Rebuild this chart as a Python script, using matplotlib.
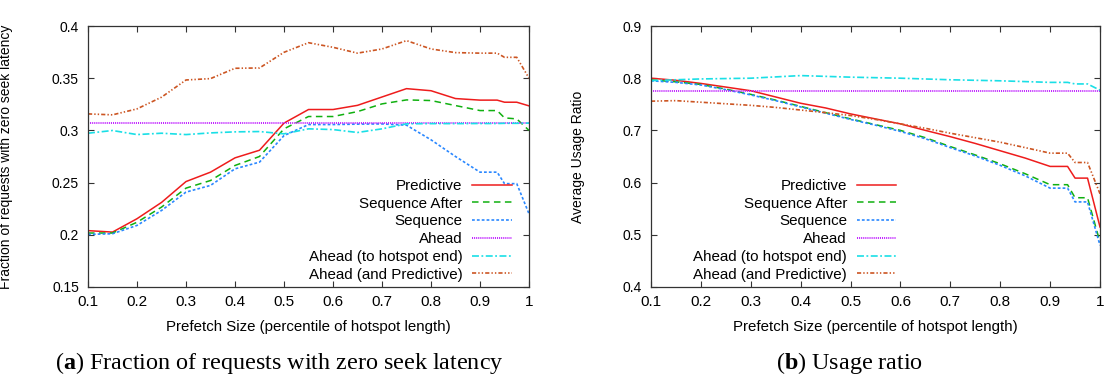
import matplotlib
matplotlib.use("Agg")
import matplotlib.pyplot as plt

plt.rcParams['font.family'] = ['Liberation Sans', 'DejaVu Sans']
plt.rcParams['mathtext.fontset'] = 'custom'
plt.rcParams['mathtext.rm'] = 'Liberation Serif'
plt.rcParams['mathtext.bf'] = 'Liberation Serif:bold'
plt.rcParams['lines.scale_dashes'] = False

# ---------------- data ----------------
x = [0.1, 0.15, 0.2, 0.25, 0.3, 0.35, 0.4, 0.45, 0.5, 0.55, 0.6, 0.65, 0.7,
     0.75, 0.8, 0.85, 0.9, 0.935, 0.95, 0.975, 1.0]

series_names = ["Predictive", "Sequence After", "Sequence", "Ahead",
                "Ahead (to hotspot end)", "Ahead (and Predictive)"]

# (a) fraction of requests with zero seek latency
pred_a = [0.204, 0.2026, 0.2154, 0.231, 0.251, 0.260, 0.2737, 0.281, 0.307, 0.320, 0.320,
          0.324, 0.332, 0.340, 0.338, 0.3305, 0.329, 0.329, 0.327, 0.327, 0.3235]
seqafter_a = [0.2017, 0.2017, 0.212, 0.2265, 0.2447, 0.252, 0.2664, 0.275, 0.3015, 0.3133, 0.3133,
              0.318, 0.3254, 0.3292, 0.3286, 0.3238, 0.319, 0.319, 0.312, 0.311, 0.300]
seq_a = [0.2004, 0.201, 0.209, 0.2233, 0.2409, 0.2473, 0.2632, 0.2696, 0.295, 0.3056, 0.3056,
         0.306, 0.3062, 0.305, 0.291, 0.275, 0.260, 0.260, 0.249, 0.249, 0.2201]
ahead_a = [0.307] * 21
aheadend_a = [0.2973, 0.2999, 0.296, 0.2973, 0.296, 0.2976, 0.2986, 0.2989, 0.2967, 0.3015, 0.3008,
              0.298, 0.3015, 0.3063, 0.3065, 0.3065, 0.3066, 0.3066, 0.3068, 0.3068, 0.307]
aheadpred_a = [0.3158, 0.3149, 0.3206, 0.3318, 0.3483, 0.3496, 0.3595, 0.3598, 0.3748, 0.384, 0.3796,
               0.374, 0.378, 0.386, 0.378, 0.3745, 0.374, 0.374, 0.370, 0.370, 0.350]

# (b) usage ratio
pred_b = [0.800, 0.796, 0.790, 0.783, 0.776, 0.764, 0.752, 0.743, 0.7316, 0.722, 0.7125,
          0.700, 0.688, 0.675, 0.661, 0.647, 0.631, 0.631, 0.6086, 0.6086, 0.515]
seqafter_b = [0.7967, 0.793, 0.788, 0.779, 0.769, 0.758, 0.746, 0.734, 0.722, 0.711, 0.700,
              0.686, 0.669, 0.653, 0.636, 0.617, 0.596, 0.596, 0.571, 0.571, 0.486]
seq_b = [0.795, 0.792, 0.787, 0.778, 0.768, 0.757, 0.745, 0.733, 0.721, 0.710, 0.698,
         0.684, 0.667, 0.651, 0.633, 0.613, 0.5894, 0.5894, 0.563, 0.563, 0.480]
ahead_b = [0.775] * 21
aheadend_b = [0.7954, 0.797, 0.7986, 0.7993, 0.800, 0.8025, 0.805, 0.8035, 0.802, 0.801, 0.800,
              0.7985, 0.797, 0.796, 0.795, 0.7935, 0.792, 0.792, 0.789, 0.789, 0.777]
aheadpred_b = [0.756, 0.757, 0.754, 0.751, 0.748, 0.744, 0.739, 0.734, 0.7285, 0.721, 0.7125,
               0.704, 0.6946, 0.686, 0.6774, 0.667, 0.6564, 0.6564, 0.6385, 0.6385, 0.5786]

xticks = [0.1, 0.2, 0.3, 0.4, 0.5, 0.6, 0.7, 0.8, 0.9, 1.0]
xticklabels = ["0.1", "0.2", "0.3", "0.4", "0.5", "0.6", "0.7", "0.8", "0.9", "1"]
yticks_a = [0.15, 0.2, 0.25, 0.3, 0.35, 0.4]
yticklabels_a = ["0.15", "0.2", "0.25", "0.3", "0.35", "0.4"]
yticks_b = [0.4, 0.5, 0.6, 0.7, 0.8, 0.9]
yticklabels_b = ["0.4", "0.5", "0.6", "0.7", "0.8", "0.9"]

xlabel = "Prefetch Size (percentile of hotspot length)"
ylabel_a = "Fraction of requests with zero seek latency"
ylabel_b = "Average Usage Ratio"
caption_a = r"($\mathbf{a}$) Fraction of requests with zero seek latency"
caption_b = r"($\mathbf{b}$) Usage ratio"

# ---------------- styles ----------------
styles = [
    dict(color='#ee1c1c', linestyle='-', linewidth=1.1),
    dict(color='#10b010', dashes=(4.7, 3.2), linewidth=1.1),
    dict(color='#2a88ff', dashes=(2.0, 1.5), linewidth=1.2),
    dict(color='#c020ff', dashes=(0.75, 0.75), linewidth=1.4),
    dict(color='#1adfe6', dashes=(5.0, 1.8, 1.3, 1.8), linewidth=1.2),
    dict(color='#cc5522', dashes=(3.0, 1.5, 1.0, 1.5, 1.0, 1.5), linewidth=1.2),
]

fig = plt.figure(figsize=(11.04, 3.78), dpi=100)
ax1 = fig.add_axes([88 / 1104, 91 / 378, 441 / 1104, 261 / 378])
ax2 = fig.add_axes([651 / 1104, 91 / 378, 449 / 1104, 261 / 378])


def draw(ax, data, yticks, yticklabels, ylim, ylabel, ylabel_x, leg_x):
    for name, ys, st in zip(series_names, data, styles):
        ax.plot(x, ys, label=name, **st)
    ax.set_xlim(0.1, 1.0)
    ax.set_ylim(*ylim)
    ax.set_xticks(xticks)
    ax.set_xticklabels(xticklabels, fontsize=11)
    ax.set_yticks(yticks)
    ax.set_yticklabels(yticklabels, fontsize=10)
    ax.tick_params(direction='in', length=4.5, width=0.8, top=True, right=True,
                   color='#333333')
    ax.tick_params(axis='y', pad=6.5)
    ax.tick_params(axis='x', pad=6)
    for s in ax.spines.values():
        s.set_color('#333333')
        s.set_linewidth(0.9)
    ax.set_xlabel(xlabel, fontsize=10.8, labelpad=8)
    ax.set_ylabel(ylabel, fontsize=10)
    ax.yaxis.set_label_coords(ylabel_x, 0.5)
    leg = ax.legend(loc='lower right', bbox_to_anchor=(leg_x, 0.02),
                    frameon=False, markerfirst=False, fontsize=10.9,
                    handlelength=2.6, handletextpad=0.65, labelspacing=0.25,
                    borderpad=0, borderaxespad=0)
    return leg


draw(ax1, [pred_a, seqafter_a, seq_a, ahead_a, aheadend_a, aheadpred_a],
     yticks_a, yticklabels_a, (0.15, 0.4), ylabel_a, -0.170, 0.961)
draw(ax2, [pred_b, seqafter_b, seq_b, ahead_b, aheadend_b, aheadpred_b],
     yticks_b, yticklabels_b, (0.4, 0.9), ylabel_b, -0.147, 0.546)

fig.text(279.5 / 1104, 1 - 369 / 378, caption_a, ha='center', va='baseline',
         fontsize=17.4, family='Liberation Serif')
fig.text(850 / 1104, 1 - 369 / 378, caption_b, ha='center', va='baseline',
         fontsize=17.4, family='Liberation Serif')

fig.savefig("out.png", dpi=100)
